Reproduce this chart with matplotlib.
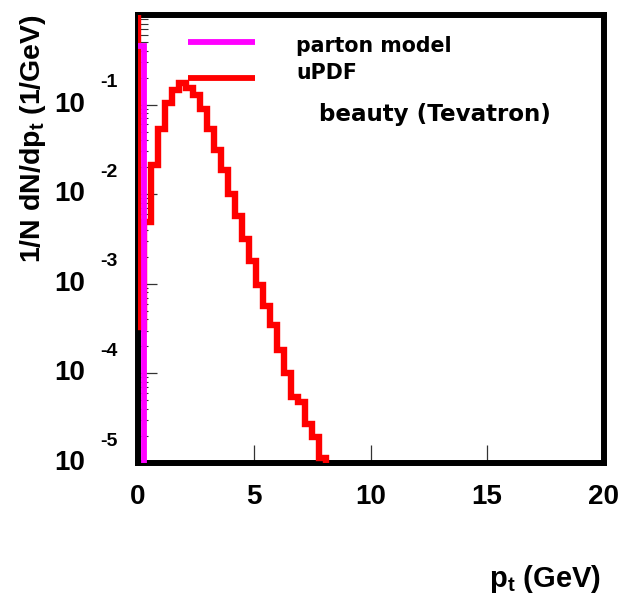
import numpy as np
import matplotlib
matplotlib.use("Agg")
import matplotlib.pyplot as plt
import matplotlib.ticker as mticker
import matplotlib.transforms as mtransforms

# ---- data ----
# uPDF histogram, 0.3 GeV bins from 0 to 8.1 GeV
updf_edges = np.linspace(0.0, 8.1, 28)
updf_vals = [3.3e-4, 4.9e-3, 0.0214, 0.053, 0.104, 0.147, 0.174, 0.155,
             0.128, 0.089, 0.053, 0.0314, 0.0186, 0.0100, 0.00568, 0.00314,
             0.00178, 9.8e-4, 5.6e-4, 3.5e-4, 1.81e-4, 1.0e-4, 5.4e-5,
             4.74e-5, 2.69e-5, 1.93e-5, 1.15e-5]
# parton model: everything in the first bin
parton_edges = [0.0, 0.3]
parton_vals = [0.45]

y_decades = [-1, -2, -3, -4, -5]
x_ticks = [0, 5, 10, 15, 20]
ymin, ymax = 1e-5, 1.0

plt.rcParams['font.family'] = ['Liberation Sans', 'DejaVu Sans']
plt.rcParams['font.weight'] = 'bold'
plt.rcParams['mathtext.fontset'] = 'custom'
plt.rcParams['mathtext.rm'] = 'Liberation Sans:bold'
plt.rcParams['mathtext.bf'] = 'Liberation Sans:bold'
plt.rcParams['mathtext.it'] = 'Liberation Sans:bold'
plt.rcParams['mathtext.default'] = 'rm'

fig = plt.figure(figsize=(6.22, 5.94), dpi=100)
ax = fig.add_axes([137.5 / 622, 131 / 594, 466 / 622, 448 / 594])
ax.set_yscale('log')
ax.set_xlim(0, 20)
ax.set_ylim(ymin, ymax)

# histograms drawn as ROOT-style step outlines
rx = np.concatenate([[updf_edges[0]], updf_edges])
ry = np.concatenate([[ymax * 10], updf_vals, [ymin / 10]])
ax.plot(rx, ry, drawstyle='steps-post', color='#ff0000', lw=4.6,
        solid_joinstyle='miter', zorder=3)

px = np.array(parton_edges)
py = np.concatenate([parton_vals, [ymin / 10]])
ax.plot(px, py, drawstyle='steps-post', color='#ff00ff', lw=4.2,
        solid_joinstyle='miter', zorder=4)

# frame
for s in ax.spines.values():
    s.set_linewidth(4.3)
    s.set_zorder(2.5)

# ticks
ax.xaxis.set_major_locator(mticker.FixedLocator(x_ticks))
ax.xaxis.set_minor_locator(mticker.NullLocator())
ax.yaxis.set_major_locator(mticker.LogLocator(base=10, numticks=20))
ax.yaxis.set_minor_locator(mticker.LogLocator(base=10, subs=np.arange(2, 10), numticks=20))
ax.yaxis.set_minor_formatter(mticker.NullFormatter())
ax.tick_params(axis='x', which='major', direction='in', length=13, width=0.9,
               color='#333333', labelsize=20, pad=15, top=False)
ax.tick_params(axis='y', which='major', direction='in', length=14, width=0.9,
               color='#333333', labelleft=False, right=False)
ax.tick_params(axis='y', which='minor', direction='in', length=7, width=0.8,
               color='#333333', right=False)
for lab in ax.get_xticklabels():
    lab.set_fontweight('bold')

# y tick labels as "10" with a raised exponent, ROOT style
ytrans = ax.get_yaxis_transform()
exp_trans = mtransforms.offset_copy(ytrans, fig=fig, x=0, y=22, units='dots')
for d in y_decades:
    ax.text(-0.113, 10.0 ** d, '10', transform=ytrans, ha='right', va='center',
            fontsize=20, fontweight='bold', clip_on=False)
    ax.text(-0.081, 10.0 ** d, '%d' % d, transform=exp_trans, ha='left',
            va='center', fontsize=14, fontweight='bold', clip_on=False)

# legend
ax.plot([0.108, 0.252], [0.9397, 0.9397], transform=ax.transAxes,
        color='#ff00ff', lw=4.2, solid_capstyle='butt')
ax.plot([0.108, 0.252], [0.8594, 0.8594], transform=ax.transAxes,
        color='#ff0000', lw=4.2, solid_capstyle='butt')
ax.text(0.340, 0.9174, 'parton model', transform=ax.transAxes, ha='left',
        va='baseline', fontsize=14.8, fontweight='bold', family='DejaVu Sans')
ax.text(0.340, 0.857, 'uPDF', transform=ax.transAxes, ha='left',
        va='baseline', fontsize=14.8, fontweight='bold', family='DejaVu Sans')
ax.text(0.390, 0.763, 'beauty (Tevatron)', transform=ax.transAxes, ha='left',
        va='baseline', fontsize=16.6, fontweight='bold', family='DejaVu Sans')

# axis titles
fig.text(601 / 622, 1 - 587 / 594, r'p$_{t}$ (GeV)', ha='right', va='baseline',
         fontsize=21, fontweight='bold')
fig.text(33 / 622, 1 - 14 / 594, r'1/N dN/dp$_{t}$ (1/GeV)', rotation=90,
         ha='center', va='top', fontsize=20.5, fontweight='bold')

fig.savefig('out.png', dpi=100)
